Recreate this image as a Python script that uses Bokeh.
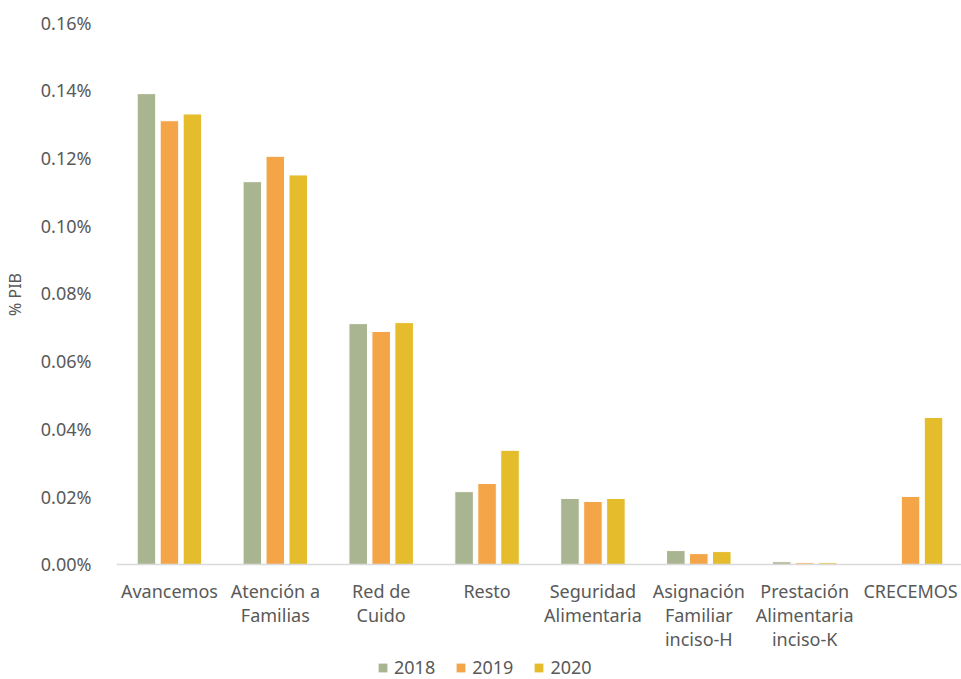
from bokeh.plotting import figure
from bokeh.layouts import column
from bokeh.models import (ColumnDataSource, FactorRange, FixedTicker, PrintfTickFormatter,
                          Legend, LegendItem, Span)
from bokeh.core.properties import value
from bokeh.transform import dodge
from bokeh.embed import file_html
from bokeh.resources import INLINE

# Program spending as share of GDP (% PIB)
programs = [
    "Avancemos",
    "Atención a\nFamilias",
    "Red de\nCuido",
    "Resto",
    "Seguridad\nAlimentaria",
    "Asignación\nFamiliar\ninciso-H",
    "Prestación\nAlimentaria\ninciso-K",
    "CRECEMOS",
]
years = ["2018", "2019", "2020"]
v2018 = [0.139, 0.113, 0.0711, 0.0215, 0.0195, 0.0041, 0.0008, 0.0]
v2019 = [0.131, 0.1205, 0.0688, 0.0239, 0.0186, 0.0032, 0.0005, 0.0201]
v2020 = [0.133, 0.115, 0.0714, 0.0337, 0.0195, 0.0038, 0.0005, 0.0434]
y_ticks = [0.0, 0.02, 0.04, 0.06, 0.08, 0.10, 0.12, 0.14, 0.16]

colors = ["#a8b590", "#f3a547", "#e5bc2b"]
FONT = "Noto Sans"
GRAY = "#595959"

source = ColumnDataSource(dict(program=programs, y2018=v2018, y2019=v2019, y2020=v2020,
                               zero=[0.0] * len(programs)))
x_range = FactorRange(*programs, range_padding=0)

# --- bars ---------------------------------------------------------------
p = figure(
    x_range=x_range,
    y_range=(-0.0006, 0.16),
    frame_width=847, frame_height=544,
    output_backend="svg", toolbar_location=None,
    min_border_left=114, min_border_right=0, min_border_top=22, min_border_bottom=12,
)

for col, off, c in zip(["y2018", "y2019", "y2020"], [-0.217, 0.0, 0.217], colors):
    p.vbar(x=dodge("program", off, range=x_range), top=col, width=0.175,
           source=source, fill_color=c, line_color="white", line_width=1)

p.outline_line_color = None
p.xgrid.grid_line_color = None
p.ygrid.grid_line_color = None
p.xaxis.visible = False
p.add_layout(Span(location=0, dimension="width", line_color="#d9d9d9", line_width=1.5))

p.yaxis.ticker = FixedTicker(ticks=y_ticks)
p.yaxis.formatter = PrintfTickFormatter(format="%.2f%%")
p.yaxis.axis_line_color = None
p.yaxis.major_tick_line_color = None
p.yaxis.minor_tick_line_color = None
p.yaxis.major_label_text_font = FONT
p.yaxis.major_label_text_font_size = "18px"
p.yaxis.major_label_text_color = GRAY
p.yaxis.major_label_standoff = 19
p.yaxis.axis_label = "% PIB"
p.yaxis.axis_label_text_font = FONT
p.yaxis.axis_label_text_font_size = "16px"
p.yaxis.axis_label_text_font_style = "normal"
p.yaxis.axis_label_text_color = GRAY
p.yaxis.axis_label_standoff = 12

# --- category names and legend strip under the bars ----------------------
q = figure(
    x_range=x_range,
    y_range=(101, 0),
    frame_width=847, frame_height=101,
    output_backend="svg", toolbar_location=None,
    min_border_left=114, min_border_right=0, min_border_top=0, min_border_bottom=0,
)
q.axis.visible = False
q.grid.visible = False
q.outline_line_color = None

q.text(x="program", y=0, text="program", source=source,
       text_align="center", text_baseline="top",
       text_font=value(FONT), text_font_size="18px", text_color=GRAY,
       text_line_height=1.0)

# flat (zero-height) bars that only carry the legend swatch colours
swatches = [q.vbar(x="program", top="zero", bottom="zero", width=0.1, source=source,
                   fill_color=c, line_color=None) for c in colors]
legend = Legend(
    items=[LegendItem(label=y, renderers=[r]) for y, r in zip(years, swatches)],
    orientation="horizontal",
    location=(339, 0),
    label_text_font=FONT,
    label_text_font_size="18px",
    label_text_color=GRAY,
    glyph_width=11, glyph_height=11,
    spacing=20,
    label_standoff=6,
    border_line_color=None,
    background_fill_alpha=0,
    margin=0,
    padding=0,
)
q.add_layout(legend, "center")

layout = column(p, q, spacing=0)
open("out.html", "w").write(file_html(layout, INLINE))
